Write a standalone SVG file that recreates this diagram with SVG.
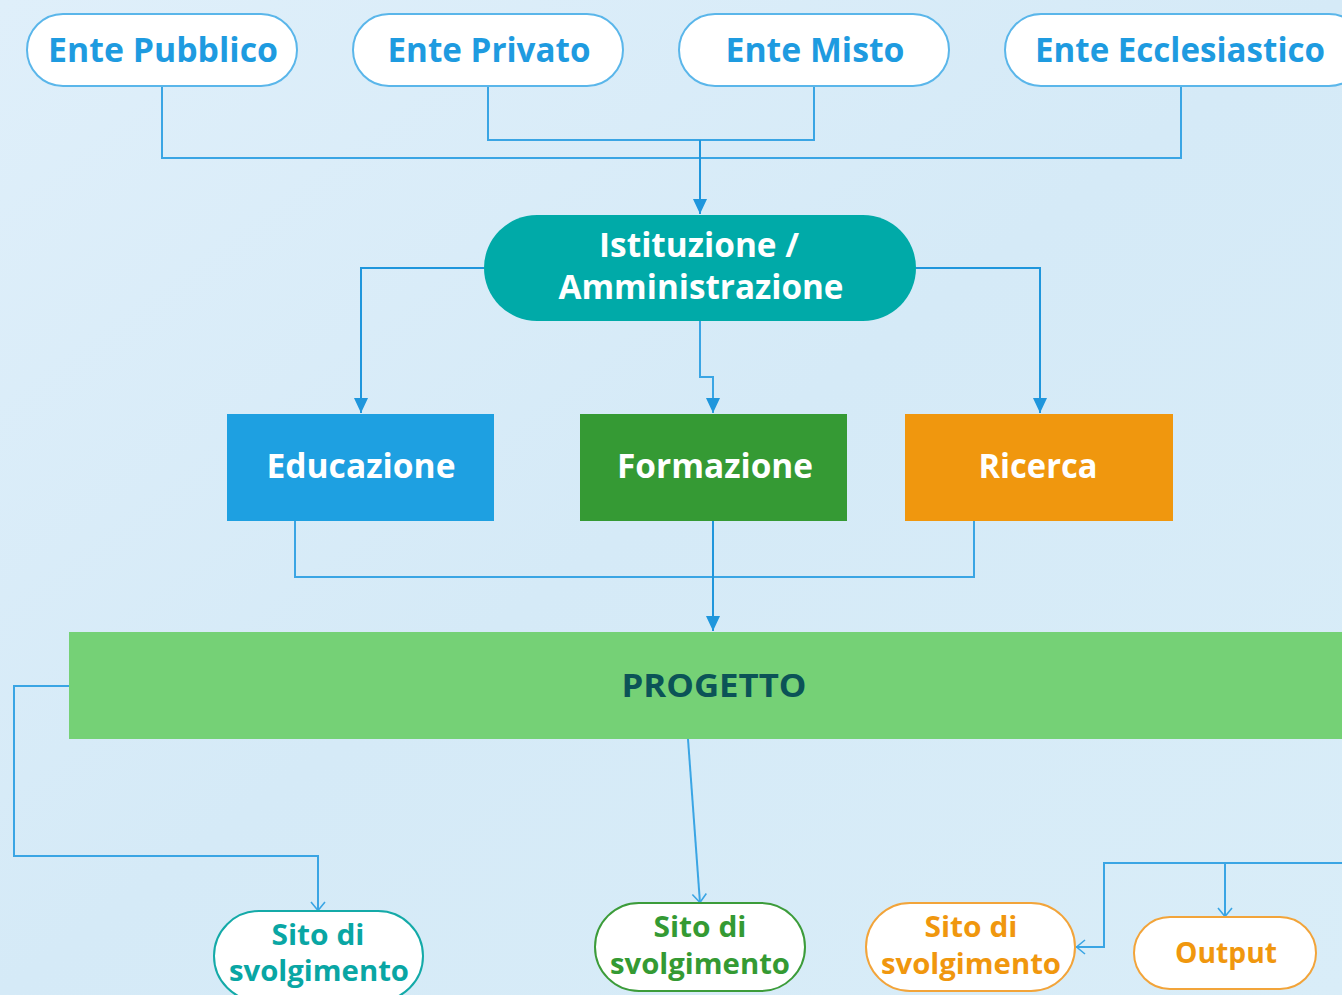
<svg xmlns="http://www.w3.org/2000/svg" width="1342" height="995" viewBox="0 0 1342 995">
<defs>
<linearGradient id="bg" x1="0" y1="0" x2="1" y2="1">
<stop offset="0" stop-color="#dfeffa"/>
<stop offset="0.5" stop-color="#d5eaf7"/>
<stop offset="1" stop-color="#d9edf8"/>
</linearGradient>
<marker id="tri" viewBox="0 0 15 14" refX="15" refY="7" markerWidth="15" markerHeight="14" markerUnits="userSpaceOnUse" orient="auto">
<path d="M0,0 L15,7 L0,14 Z" fill="#1f96dc"/>
</marker>
<marker id="vee" viewBox="0 0 10 16" refX="10" refY="8" markerWidth="10" markerHeight="16" markerUnits="userSpaceOnUse" orient="auto">
<path d="M1,1 L9.5,8 L1,15" fill="none" stroke="#3aa5e4" stroke-width="1.6"/>
</marker>
</defs>
<style>
text{font-family:"Open Sans","Noto Sans","DejaVu Sans",sans-serif;font-weight:bold;text-anchor:middle}
.ente{fill:#fff;stroke:#5ab6ea;stroke-width:2}
.ente-t{fill:#1e9be0;font-size:34px}
.white{fill:#fff;font-size:34px}
.line{fill:none;stroke:#3aa5e4;stroke-width:2}
.line2{fill:none;stroke:#1f96dc;stroke-width:2}
.sito{fill:#fff;stroke-width:2}
.st{font-size:29px}
</style>
<rect width="1342" height="995" fill="url(#bg)"/>

<g id="connectors">
<path class="line" d="M162,86 V158 H1181 V86"/>
<path class="line" d="M488,86 V140 H814 V86"/>
<path class="line2" d="M700,140 V214" marker-end="url(#tri)"/>
<path class="line2" d="M484,268 H361 V413" marker-end="url(#tri)"/>
<path class="line2" d="M916,268 H1040 V413" marker-end="url(#tri)"/>
<path class="line" d="M700,321 V377 H713 V413" marker-end="url(#tri)"/>
<path class="line" d="M295,521 V577 H974 V521"/>
<path class="line2" d="M713,521 V631" marker-end="url(#tri)"/>
<path class="line" d="M69,686 H14 V856 H318 V911" marker-end="url(#vee)"/>
<path class="line" d="M688,739 L700,903" marker-end="url(#vee)"/>
<path class="line" d="M1342,863 H1104 V947 H1076" marker-end="url(#vee)"/>
<path class="line" d="M1225,863 V917" marker-end="url(#vee)"/>
</g>

<g id="ente-pubblico">
<rect class="ente" x="27" y="14" width="270" height="72" rx="36"/>
<text class="ente-t" x="163" y="62" textLength="230" lengthAdjust="spacingAndGlyphs">Ente Pubblico</text>
</g>
<g id="ente-privato">
<rect class="ente" x="353" y="14" width="270" height="72" rx="36"/>
<text class="ente-t" x="489" y="62" textLength="203" lengthAdjust="spacingAndGlyphs">Ente Privato</text>
</g>
<g id="ente-misto">
<rect class="ente" x="679" y="14" width="270" height="72" rx="36"/>
<text class="ente-t" x="815" y="62" textLength="179" lengthAdjust="spacingAndGlyphs">Ente Misto</text>
</g>
<g id="ente-ecclesiastico">
<rect class="ente" x="1005" y="14" width="360" height="72" rx="36"/>
<text class="ente-t" x="1180" y="62" textLength="290" lengthAdjust="spacingAndGlyphs">Ente Ecclesiastico</text>
</g>

<g id="istituzione">
<rect x="484" y="215" width="432" height="106" rx="53" fill="#00aaa8"/>
<text class="white" x="699" y="257" textLength="200" lengthAdjust="spacingAndGlyphs">Istituzione /</text>
<text class="white" x="701" y="299" textLength="285" lengthAdjust="spacingAndGlyphs">Amministrazione</text>
</g>

<g id="educazione">
<rect x="227" y="414" width="267" height="107" fill="#1ea0e1"/>
<text class="white" x="361" y="478" textLength="189" lengthAdjust="spacingAndGlyphs">Educazione</text>
</g>
<g id="formazione">
<rect x="580" y="414" width="267" height="107" fill="#359a34"/>
<text class="white" x="715" y="478" textLength="196" lengthAdjust="spacingAndGlyphs">Formazione</text>
</g>
<g id="ricerca">
<rect x="905" y="414" width="268" height="107" fill="#f0970e"/>
<text class="white" x="1038" y="478" textLength="119" lengthAdjust="spacingAndGlyphs">Ricerca</text>
</g>

<g id="progetto">
<rect x="69" y="632" width="1290" height="107" fill="#75d176"/>
<text x="714" y="697" font-size="33" fill="#0b5357" textLength="185" lengthAdjust="spacingAndGlyphs">PROGETTO</text>
</g>

<g id="sito-teal">
<rect class="sito" x="214" y="911" width="209" height="90" rx="45" stroke="#14aaa8"/>
<text class="st" x="318" y="945" fill="#09a6a4" textLength="93" lengthAdjust="spacingAndGlyphs">Sito di</text>
<text class="st" x="319" y="981" fill="#09a6a4" textLength="180" lengthAdjust="spacingAndGlyphs">svolgimento</text>
</g>
<g id="sito-green">
<rect class="sito" x="595" y="903" width="210" height="88" rx="44" stroke="#3c9c3a"/>
<text class="st" x="700" y="937" fill="#349a33" textLength="93" lengthAdjust="spacingAndGlyphs">Sito di</text>
<text class="st" x="700" y="974" fill="#349a33" textLength="180" lengthAdjust="spacingAndGlyphs">svolgimento</text>
</g>
<g id="sito-orange">
<rect class="sito" x="866" y="903" width="209" height="88" rx="44" stroke="#f2a43a"/>
<text class="st" x="971" y="937" fill="#f0970e" textLength="93" lengthAdjust="spacingAndGlyphs">Sito di</text>
<text class="st" x="971" y="974" fill="#f0970e" textLength="180" lengthAdjust="spacingAndGlyphs">svolgimento</text>
</g>
<g id="output">
<rect class="sito" x="1134" y="917" width="182" height="72" rx="36" stroke="#f2a43a"/>
<text class="st" x="1226" y="963" fill="#f0970e" textLength="102" lengthAdjust="spacingAndGlyphs">Output</text>
</g>
</svg>
